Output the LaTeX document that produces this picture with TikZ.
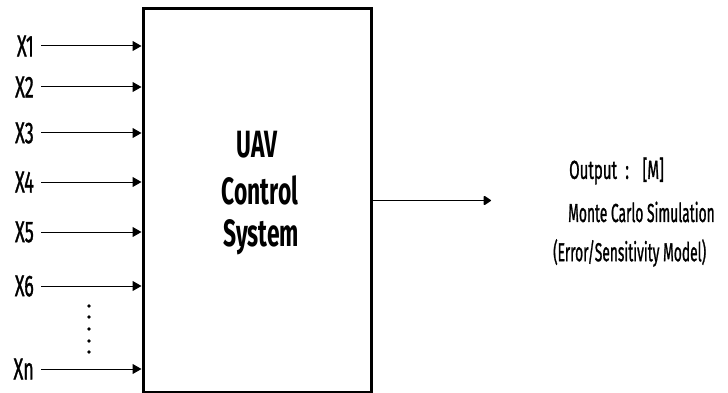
\documentclass[tikz,border=0pt]{standalone}
\usepackage{fontspec}
\setmainfont{Fira Sans}
\newfontfamily\medfont{Fira Sans}[FakeBold=1.5]
\usetikzlibrary{arrows.meta}
\newcommand{\cnd}[2][0.62]{\scalebox{#1}[1]{#2}}
\tikzset{
  inlabel/.style={anchor=east, inner xsep=0pt, inner ysep=0pt, font=\medfont\fontsize{30}{30}\selectfont},
  inarrow/.style={line width=1pt, -{Triangle[length=9pt,width=10pt]}},
  sysbox/.style={draw, line width=3pt, minimum width=228pt, minimum height=383pt, inner sep=0pt},
  systext/.style={font=\fontsize{38}{38}\bfseries\selectfont},
  outtext/.style={anchor=west, inner sep=0pt, font=\medfont\fontsize{26}{26}\selectfont},
  dotmark/.style={circle, fill=black, inner sep=0pt, minimum size=3.6pt}
}
\begin{document}
\begin{tikzpicture}[x=1pt,y=-1pt]
\useasboundingbox (0,0) rectangle (728,393);
\node[sysbox] (box) at (257,200.5) {};
\node[systext] (t1) at (257,145) {\cnd[0.6]{UAV}};
\node[systext] (t2) at (260,190) {\cnd[0.6]{Control}};
\node[systext] (t3) at (261,237) {\cnd[0.6]{System}};
\foreach \n/\lab/\yy in {1/X1/46, 2/X2/87, 3/X3/133, 4/X4/182, 5/X5/232, 6/X6/286, n/Xn/369} {
  \node[inlabel] (x\n) at (34,\yy) {\cnd[0.6]{\lab}};
  \draw[inarrow] ([xshift=7pt]x\n.east) -- (x\n.east -| box.west);
}
\foreach \i/\yy in {1/306,2/317,3/329,4/341,5/352} {
  \node[dotmark] (d\i) at (89,\yy) {};
}
\coordinate (out) at (491,200.5);
\draw[line width=1.5pt, -{Triangle[round,length=8pt,width=10pt]}] (box.east) -- (out);
\node[outtext] (o1) at (569,171) {\cnd[0.58]{Output\hspace{0.55em}:\hspace{0.9em}[M]}};
\node[outtext] (o2) at (568,212) {\cnd[0.53]{Monte Carlo Simulation}};
\node[outtext] (o3) at (553,253) {\cnd[0.53]{(Error/Sensitivity Model)}};
\end{tikzpicture}
\end{document}
